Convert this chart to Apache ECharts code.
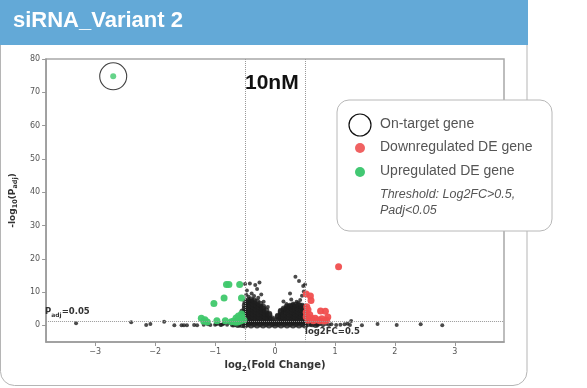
<!DOCTYPE html>
<html>
<head>
<meta charset="utf-8">
<script src="https://cdn.jsdelivr.net/npm/echarts@6/dist/echarts.min.js"></script>
<style>
html,body{margin:0;padding:0;background:#fff;}
#chart{width:587px;height:388px;}
</style>
</head>
<body>
<div id="chart"></div>
<script>
// ---- data ----
const xTicks = [-3, -2, -1, 0, 1, 2, 3];
const yTicks = [0, 10, 20, 30, 40, 50, 60, 70, 80];
const log2fcThreshold = [-0.5, 0.5];
const padjThreshold = 1.3; // -log10(0.05)

const onTarget = [[-2.70, 74.8]];

const upregulated = [
  [-0.81,12.3],[-0.77,12.3],[-0.59,12.3],
  [-0.85,8.2],[-0.56,8.2],[-1.02,6.6],
  [-1.23,2.1],[-1.19,1.2],[-1.13,1.0],[-1.17,1.7],
  [-0.97,1.4],[-0.83,1.4],[-0.69,1.3],[-0.65,2.2],[-0.61,2.8],
  [-0.56,3.4],[-0.58,1.3],[-0.52,1.6],[-0.62,1.0],[-0.66,0.9],
  [-0.55,2.4],[-0.60,2.0],[-0.73,1.1]
];

const downregulated = [
  [1.06,17.6],[0.52,9.4],[0.59,8.8],[0.60,7.5],[0.53,5.6],
  [0.52,3.9],[0.76,4.3],[0.84,4.2],[0.88,2.5],[0.52,2.6],
  [0.61,2.1],[0.67,2.1],[0.78,2.0],[0.55,1.5],[0.64,1.4],
  [0.75,1.4],[0.86,1.5],[0.58,3.2],[0.71,1.6],[0.82,1.3],[0.55,4.7]
];

// sparse non-significant genes
const otherGenes = [
  [-3.32,0.6],[-2.40,0.9],[-2.15,0.1],[-2.08,0.4],[-1.85,1.1],[-1.68,0.0],
  [-1.56,0.0],[-1.52,0.0],[-1.47,0.0],[-1.35,0.1],[-1.30,0.0],[-1.19,0.2],
  [-1.08,0.1],[-0.91,0.2],[-0.98,0.4],[-0.87,0.3],[-1.12,0.3],
  [1.27,1.3],[1.45,0.0],[1.71,0.4],[2.03,0.1],[2.43,0.3],[2.79,0.0],
  [0.94,0.3],[1.02,0.1],[1.09,0.2],[1.16,0.3],[1.21,0.5],[1.25,0.1],
  [0.34,14.6],[0.40,13.3],[0.47,11.8],[0.50,12.3],[0.25,9.6],[0.36,7.1],
  [0.39,6.8],[0.30,6.6],[0.19,6.4],[-0.26,12.9],[-0.33,12.1],[-0.42,12.6],
  [-0.50,12.4],[-0.30,10.9],[-0.23,9.3],[-0.39,9.6],[-0.44,8.6],[-0.19,7.1],
  [-0.47,10.5],[-0.35,8.8],[-0.28,8.3],[-0.48,9.2],[0.45,8.9],[0.42,7.6],
  [0.48,10.2],[0.14,7.2],[-0.12,5.5],[0.27,7.8],
  [-1.00,0.2],[-0.95,0.5],[-0.90,0.1],[-0.85,0.6],[-0.80,0.2],[-0.75,0.7],
  [-0.70,0.1],[-0.70,1.0],[-0.65,0.4],[-0.60,0.0],[-0.60,1.0],
  [0.60,0.2],[0.65,0.6],[0.70,0.1],[0.75,0.5],[0.80,0.0],[0.85,0.4],[0.90,0.1]
];

// dense core of non-significant genes (two humps around 0)
const denseGenes = [
  [-0.55,0.2],[-0.55,1.2],[-0.55,2.2],[-0.55,3.2],[-0.54,4.1],
  [-0.50,0.0],[-0.50,1.0],[-0.50,2.0],[-0.50,3.0],[-0.50,4.0],[-0.50,5.0],[-0.50,6.0],[-0.49,7.0],
  [-0.45,0.5],[-0.45,1.5],[-0.45,2.5],[-0.45,3.5],[-0.45,4.5],[-0.45,5.5],[-0.45,6.5],[-0.45,7.4],
  [-0.40,0.0],[-0.40,1.0],[-0.40,2.0],[-0.40,3.0],[-0.40,4.0],[-0.40,5.0],[-0.40,6.0],[-0.40,7.0],[-0.40,7.7],
  [-0.35,0.5],[-0.35,1.5],[-0.35,2.5],[-0.35,3.5],[-0.35,4.5],[-0.35,5.5],[-0.35,6.5],[-0.35,7.4],
  [-0.30,0.0],[-0.30,1.0],[-0.30,2.0],[-0.30,3.0],[-0.30,4.0],[-0.30,5.0],[-0.30,6.0],[-0.30,7.0],
  [-0.25,0.5],[-0.25,1.5],[-0.25,2.5],[-0.25,3.5],[-0.25,4.5],[-0.25,5.5],[-0.25,6.4],
  [-0.20,0.0],[-0.20,1.0],[-0.20,2.0],[-0.20,3.0],[-0.20,4.0],[-0.20,5.0],[-0.20,5.5],
  [-0.15,0.5],[-0.15,1.5],[-0.15,2.5],[-0.15,3.5],[-0.15,4.4],
  [-0.10,0.0],[-0.10,1.0],[-0.10,2.0],[-0.10,3.0],[-0.10,3.4],
  [-0.05,0.5],[-0.05,1.5],[-0.05,2.0],
  [0.00,0.0],[0.00,0.7],
  [0.05,0.5],[0.05,1.5],[0.05,2.5],[0.05,2.8],
  [0.10,0.0],[0.10,1.0],[0.10,2.0],[0.10,3.0],[0.10,4.0],[0.10,4.3],
  [0.15,0.5],[0.15,1.5],[0.15,2.5],[0.15,3.5],[0.15,4.5],[0.15,5.0],
  [0.20,0.0],[0.20,1.0],[0.20,2.0],[0.20,3.0],[0.20,4.0],[0.20,5.0],[0.20,5.5],
  [0.25,0.5],[0.25,1.5],[0.25,2.5],[0.25,3.5],[0.25,4.5],[0.25,5.5],[0.25,5.8],
  [0.30,0.0],[0.30,1.0],[0.30,2.0],[0.30,3.0],[0.30,4.0],[0.30,5.0],[0.30,5.8],
  [0.35,0.5],[0.35,1.5],[0.35,2.5],[0.35,3.5],[0.35,4.5],[0.35,5.5],[0.35,6.1],
  [0.40,0.0],[0.40,1.0],[0.40,2.0],[0.40,3.0],[0.40,4.0],[0.40,5.0],[0.40,6.0],
  [0.45,0.5],[0.45,1.5],[0.45,2.5],[0.45,3.5],[0.45,4.5],[0.45,5.5],[0.45,5.8],
  [0.50,0.0],[0.50,1.0],[0.50,2.0],[0.50,3.0],[0.50,4.0],[0.50,5.0],[0.50,5.2],
  [0.55,0.5],[0.55,1.5],[0.55,2.5],
  [-0.70,0.3],[-0.65,0.6],[-0.62,0.2],[0.62,0.4],[0.68,0.2],[0.72,0.6]
];

// ---- chart ----
const chart = echarts.init(document.getElementById('chart'), null, {renderer: 'canvas'});
const plotFont = '"DejaVu Sans", Verdana, sans-serif';
const GREEN = '#3fc86c';
const RED = '#f04e4e';

const option = {
  animation: false,
  backgroundColor: '#fff',
  grid: {
    left: 43, right: 83, top: 59, bottom: 46,
    show: true, borderColor: '#a8a8a8', borderWidth: 1.5, backgroundColor: 'transparent'
  },
  xAxis: {
    type: 'value', min: -3.82, max: 3.82,
    name: '{a|log}{s|2}{a|(Fold Change)}',
    nameLocation: 'middle', nameGap: 18,
    nameTextStyle: {
      rich: {
        a: {fontFamily: plotFont, fontWeight: 'bold', fontSize: 10, color: '#333', verticalAlign: 'bottom'},
        s: {fontFamily: plotFont, fontWeight: 'bold', fontSize: 7, color: '#333', verticalAlign: 'bottom', padding: [0,0,-2,0]}
      }
    },
    axisLine: {show: true, onZero: false, lineStyle: {color: '#999', width: 1.5}},
    axisTick: {show: true, length: 4, customValues: xTicks, lineStyle: {color: '#999'}},
    axisLabel: {
      customValues: xTicks, fontFamily: plotFont, fontSize: 8, color: '#555', margin: 6,
      formatter: v => String(v).replace('-', '\u2212')
    },
    splitLine: {show: false}
  },
  yAxis: {
    type: 'value', min: -5, max: 80,
    name: '{a|-log}{s|10}{a|(P}{s|adj}{a|)}',
    nameLocation: 'middle', nameGap: 22, nameRotate: 90,
    nameTextStyle: {
      rich: {
        a: {fontFamily: plotFont, fontWeight: 'bold', fontSize: 9, color: '#333', verticalAlign: 'bottom'},
        s: {fontFamily: plotFont, fontWeight: 'bold', fontSize: 6.5, color: '#333', verticalAlign: 'bottom', padding: [0,0,-2,0]}
      }
    },
    axisLine: {show: true, onZero: false, lineStyle: {color: '#999', width: 1.5}},
    axisTick: {show: true, length: 4, customValues: yTicks, lineStyle: {color: '#999'}},
    axisLabel: {customValues: yTicks, fontFamily: plotFont, fontSize: 8, color: '#555', margin: 6},
    splitLine: {show: false}
  },
  series: [
    {
      name: 'Other genes', type: 'scatter', data: otherGenes,
      symbolSize: 4, itemStyle: {color: '#1e1e1e'}, z: 2,
      markLine: {
        silent: true, symbol: 'none',
        lineStyle: {type: 'dotted', color: '#999', width: 1},
        label: {show: false},
        data: [
          {xAxis: log2fcThreshold[0]},
          {xAxis: log2fcThreshold[1]},
          {yAxis: padjThreshold}
        ]
      }
    },
    {
      name: 'Other genes (core)', type: 'scatter', data: denseGenes,
      symbolSize: 6.5, itemStyle: {color: '#1e1e1e'}, z: 2
    },
    {
      name: 'Upregulated DE gene', type: 'scatter', data: upregulated,
      symbolSize: 7, itemStyle: {color: GREEN, opacity: 0.95}, z: 3
    },
    {
      name: 'Downregulated DE gene', type: 'scatter', data: downregulated,
      symbolSize: 7, itemStyle: {color: RED, opacity: 0.95}, z: 3
    },
    {
      name: 'On-target gene (point)', type: 'scatter', data: onTarget,
      symbolSize: 6, itemStyle: {color: GREEN}, z: 4
    },
    {
      name: 'On-target gene', type: 'scatter', data: onTarget,
      symbolSize: 27, symbol: 'circle',
      itemStyle: {color: 'transparent', borderColor: '#111', borderWidth: 1.1}, z: 4
    }
  ],
  graphic: [
    {type: 'rect', z: -10, silent: true,
     shape: {x: 0.5, y: 20, width: 526.5, height: 365.5, r: [0, 0, 14, 14]},
     style: {fill: '#fff', stroke: '#b5b5b5', lineWidth: 1}},
    {type: 'rect', z: -9, silent: true,
     shape: {x: 0, y: 0, width: 528, height: 45},
     style: {fill: '#63a9d7'}},
    {type: 'text', z: 10, left: 13, top: 10,
     style: {text: 'siRNA_Variant 2', fill: '#fff', font: 'bold 22px "Liberation Sans", Arial, sans-serif'}},
    {type: 'text', z: 10, left: 245, top: 73,
     style: {text: '10nM', fill: '#111', font: 'bold 21px "Liberation Sans", Arial, sans-serif'}},
    {type: 'text', z: 10, left: 45, top: 307,
     style: {
       text: '{p|P}{s|adj}{p|=0.05}',
       rich: {
         p: {fontFamily: plotFont, fontWeight: 'bold', fontSize: 8.5, fill: '#333', verticalAlign: 'bottom'},
         s: {fontFamily: plotFont, fontWeight: 'bold', fontSize: 6, fill: '#333', verticalAlign: 'bottom', padding: [0,0,-2,0]}
       }
     }},
    {type: 'text', z: 10, left: 305, top: 327,
     style: {text: 'log2FC=0.5', fill: '#333', font: 'bold 8.5px "DejaVu Sans", Verdana, sans-serif'}},
    {type: 'rect', z: 20,
     shape: {x: 337, y: 100, width: 215, height: 131, r: 12},
     style: {fill: '#fff', stroke: '#b8b8b8', lineWidth: 1}},
    {type: 'circle', z: 21, shape: {cx: 360, cy: 125, r: 11}, style: {fill: '#fff', stroke: '#111', lineWidth: 1.2}},
    {type: 'circle', z: 21, shape: {cx: 360, cy: 148, r: 5}, style: {fill: '#f06262'}},
    {type: 'circle', z: 21, shape: {cx: 360, cy: 172, r: 5}, style: {fill: '#42c873'}},
    {type: 'text', z: 21, left: 380, top: 117,
     style: {text: 'On-target gene', fill: '#555', font: '14px "Liberation Sans", Arial, sans-serif'}},
    {type: 'text', z: 21, left: 380, top: 140,
     style: {text: 'Downregulated DE gene', fill: '#555', font: '14px "Liberation Sans", Arial, sans-serif'}},
    {type: 'text', z: 21, left: 380, top: 164,
     style: {text: 'Upregulated DE gene', fill: '#555', font: '14px "Liberation Sans", Arial, sans-serif'}},
    {type: 'text', z: 21, left: 380, top: 188,
     style: {text: 'Threshold: Log2FC>0.5,', fill: '#555', font: 'italic 12.5px "Liberation Sans", Arial, sans-serif'}},
    {type: 'text', z: 21, left: 380, top: 204,
     style: {text: 'Padj<0.05', fill: '#555', font: 'italic 12.5px "Liberation Sans", Arial, sans-serif'}}
  ]
};
chart.setOption(option);
</script>
</body>
</html>
